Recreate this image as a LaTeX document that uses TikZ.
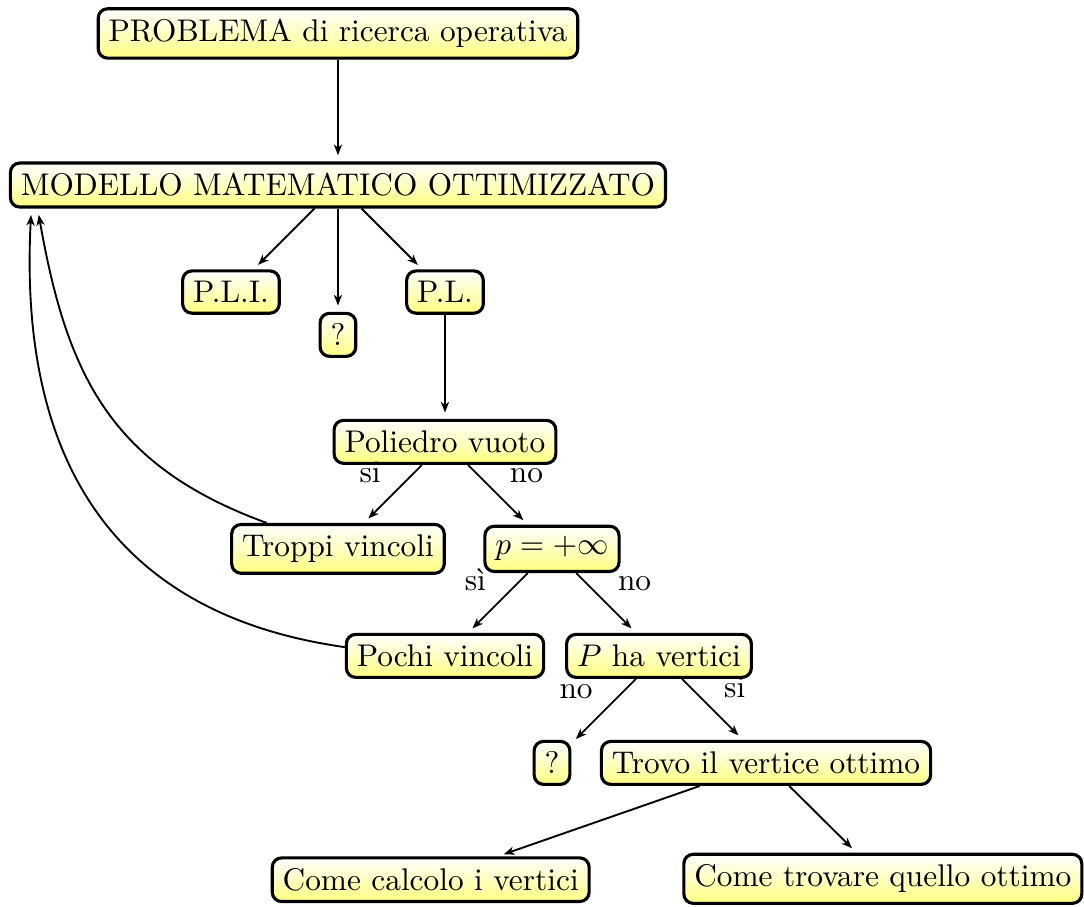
\documentclass[tikz,border=0pt]{standalone}
\usetikzlibrary{arrows.meta}

\begin{document}
\begin{tikzpicture}[box/.style={draw,line width=1pt,rounded corners=3pt,top color=white,bottom color=yellow!50},
  every path/.style={semithick},
  >={Stealth[length=3.4pt,width=2.6pt,inset=1pt]},
  sx/.style={pos=.3,anchor=base east,xshift=-4pt},
  dx/.style={pos=.3,anchor=base west,xshift=4pt}]
\useasboundingbox (-3.790,2.075) rectangle (8.366,-8.085);
\node [box] (problema) at (0,1.7) {PROBLEMA di ricerca operativa};
\node [box] (modello) at (0,0) {MODELLO MATEMATICO OTTIMIZZATO};
\node [box] (pli) at (-1.2,-1.2) {P.L.I.};
\node [box] (q1) at (0,-1.68) {?};
\node [box] (pl) at (1.2,-1.2) {P.L.};
\node [box] (poliedro) at (1.2,-2.88) {Poliedro vuoto};
\node [box] (troppi) at (0,-4.08) {Troppi vincoli};
\node [box] (pinf) at (2.4,-4.08) {$p=+\infty$};
\node [box] (pochi) at (1.2,-5.28) {Pochi vincoli};
\node [box] (pvert) at (3.6,-5.28) {$P$ ha vertici};
\node [box] (q2) at (2.4,-6.48) {?};
\node [box] (trovo) at (4.8,-6.48) {Trovo il vertice ottimo};
\node [box] (calcolo) at (1.04,-7.79) {Come calcolo i vertici};
\node [box] (ottimo) at (6.11,-7.78) {Come trovare quello ottimo};
% frecce
\draw [->,shorten >=2pt] (problema) -- (modello);
\draw [->,shorten >=2pt] (modello) -- (pli);
\draw [->,shorten >=2pt] (modello) -- (q1);
\draw [->,shorten >=2pt] (modello) -- (pl);
\draw [->,shorten >=2pt] (pl) -- (poliedro);
\draw [->,shorten >=2pt] (poliedro) -- node[sx] {si} (troppi);
\draw [->,shorten >=2pt] (poliedro) -- node[dx] {no} (pinf);
\draw [->,shorten >=2pt] (pinf) -- node[sx] {sì} (pochi);
\draw [->,shorten >=2pt] (pinf) -- node[dx] {no} (pvert);
\draw [->,shorten >=2pt] (pvert) -- node[sx] {no} (q2);
\draw [->,shorten >=2pt] (pvert) -- node[dx] {si} (trovo);
\draw [->,shorten >=2pt] (trovo) -- (calcolo);
\draw [->,shorten >=2pt] (trovo) -- (ottimo);
% ritorno al modello
\draw [->,shorten >=2pt] (troppi) to[out=160,in=-80,looseness=1.1] ([xshift=9.2pt]modello.south west);
\draw [->,shorten >=2pt] (pochi.175) to[out=172,in=-93,looseness=1.15] ([xshift=7.2pt]modello.south west);
\end{tikzpicture}
\end{document}
